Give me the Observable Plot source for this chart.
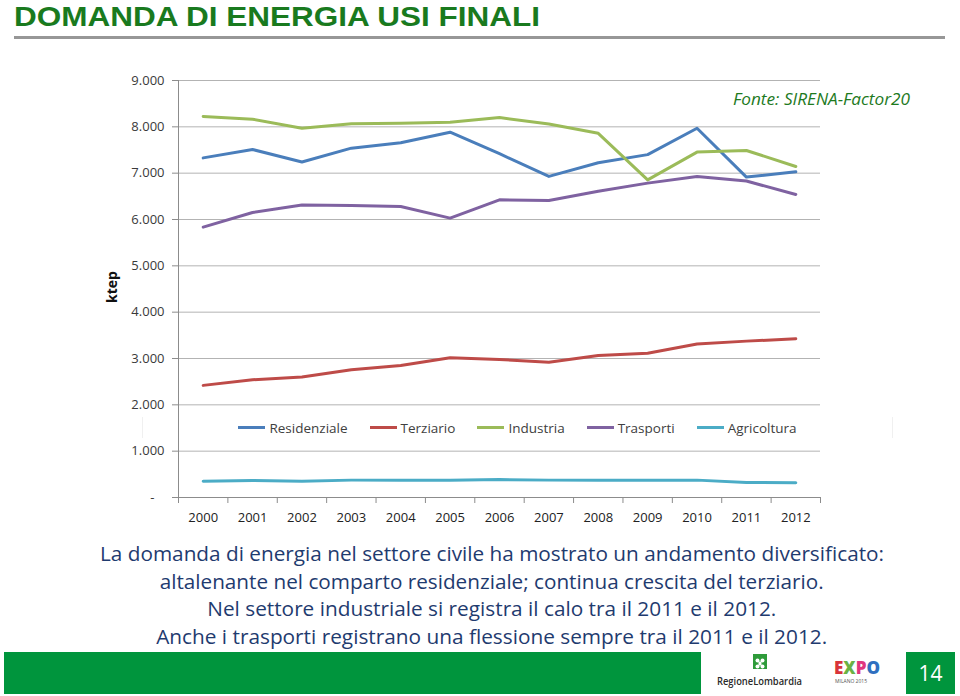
<!DOCTYPE html>
<html><head><meta charset="utf-8">
<script src="https://cdn.jsdelivr.net/npm/d3@7"></script>
<script src="https://cdn.jsdelivr.net/npm/@observablehq/plot@0.6"></script>
<style>
html,body{margin:0;padding:0;background:#fff;}
body{width:960px;height:696px;position:relative;overflow:hidden;font-family:"Open Sans",sans-serif;}
.abs{position:absolute;white-space:nowrap;}
.ib{display:inline-block;white-space:nowrap;}
#legend span.item{display:flex;align-items:center;font-size:13.5px;color:#404040;}
#legend span.sw{display:inline-block;width:27px;height:3px;margin-right:4px;}
.pline{position:absolute;left:0;width:984px;text-align:center;font-size:20px;line-height:28px;color:#1F3B6F;}
</style></head><body>
<div class="abs" style="left:14px;top:2px;line-height:30px;"><span id="title" class="ib" style="font-family:'Liberation Sans',Arial,sans-serif;font-weight:700;font-size:28px;color:#197A1E;transform-origin:left center;">DOMANDA DI ENERGIA USI FINALI</span></div>
<div class="abs" style="left:14px;top:36px;width:931px;height:3px;background:#979797;"></div>
<div id="chart" class="abs" style="left:0;top:60px;"></div>
<div class="abs" style="left:733px;top:89px;line-height:20px;"><span id="fonte" class="ib" style="font-style:italic;font-size:17px;color:#1E7A1E;transform-origin:left center;">Fonte: SIRENA-Factor20</span></div>
<div id="legend" class="abs" style="left:142px;top:417px;width:749px;height:21px;border-left:1px solid #f0f0f0;border-right:1px solid #f0f0f0;display:flex;justify-content:center;align-items:center;gap:22px;"></div>
<div id="para"></div>
<div class="abs" style="left:4px;top:652px;width:697px;height:42px;background:#00953D;"></div>
<div class="abs" style="left:906px;top:652px;width:49px;height:42px;background:#00953D;color:#fff;font-size:21px;line-height:42px;text-align:center;">14</div>
<div class="abs" style="left:753px;top:654px;width:14px;height:15px;background:#2E9B3A;">
<svg width="14" height="15" viewBox="0 0 14 15"><g fill="#fff"><circle cx="4.5" cy="4.5" r="2"/><circle cx="9.5" cy="4.5" r="2"/><circle cx="4.5" cy="10.5" r="2"/><circle cx="9.5" cy="10.5" r="2"/><rect x="5.5" y="5.5" width="3" height="4"/></g></svg></div>
<div class="abs" style="left:717px;top:674px;line-height:10px;"><span id="rl" class="ib" style="font-size:10px;font-weight:600;color:#2a2a2a;transform-origin:left center;">RegioneLombardia</span></div>
<div class="abs" style="left:834px;top:659px;line-height:18px;"><span id="expo" class="ib" style="font-size:17px;font-weight:800;transform-origin:left center;"><span style="color:#d8343a">E</span><span style="color:#6bb244">X</span><span style="color:#e0357e">P</span><span style="color:#2f6fc0">O</span></span></div>
<div class="abs" style="left:835px;top:678px;font-size:5px;line-height:6px;color:#555;">MILANO 2015</div>
<script>
const years = [2000, 2001, 2002, 2003, 2004, 2005, 2006, 2007, 2008, 2009, 2010, 2011, 2012];
const seriesNames = ["Residenziale", "Terziario", "Industria", "Trasporti", "Agricoltura"];
const seriesColors = ["#4A7EBB", "#BE4B48", "#9BBB59", "#7F62A1", "#4BACC6"];
const residenziale = [7330, 7510, 7240, 7540, 7655, 7885, 7420, 6930, 7225, 7400, 7970, 6915, 7030];
const terziario = [2420, 2540, 2600, 2755, 2850, 3015, 2980, 2920, 3065, 3115, 3315, 3375, 3425];
const industria = [8225, 8165, 7970, 8065, 8080, 8100, 8200, 8060, 7860, 6855, 7455, 7490, 7145];
const trasporti = [5835, 6150, 6315, 6300, 6280, 6030, 6425, 6410, 6610, 6785, 6930, 6830, 6540];
const agricoltura = [352, 367, 352, 375, 375, 375, 388, 375, 375, 375, 375, 324, 317];
const yTicks = [0, 1000, 2000, 3000, 4000, 5000, 6000, 7000, 8000, 9000];
const yLabel = "ktep";
const paragraphLines = [
  "La domanda di energia nel settore civile ha mostrato un andamento diversificato:",
  "altalenante nel comparto residenziale; continua crescita del terziario.",
  "Nel settore industriale si registra il calo tra il 2011 e il 2012.",
  "Anche i trasporti registrano una flessione sempre tra il 2011 e il 2012."
];
const paragraphWidths = [784, 664, 569, 671];

const values = [residenziale, terziario, industria, trasporti, agricoltura];
const rows = seriesNames.flatMap((name, i) => years.map((year, j) => ({series: name, year, value: values[i][j]})));
const boundaries = [years[0] - 0.5, ...years.map(y => y + 0.5)];
const fmt = d => d === 0 ? "-\u00a0\u00a0\u00a0" : d3.format(",")(d).replace(/,/g, ".");

const chart = Plot.plot({
  width: 960, height: 480,
  marginTop: 20, marginBottom: 43, marginLeft: 178, marginRight: 140,
  style: {fontFamily: "'Open Sans', sans-serif", fontSize: "13px", background: "transparent", color: "#333", overflow: "visible"},
  x: {type: "linear", domain: [years[0] - 0.5, years[years.length - 1] + 0.5]},
  y: {domain: [0, 9000]},
  color: {domain: seriesNames, range: seriesColors},
  marks: [
    Plot.gridY(yTicks.filter(d => d > 0), {stroke: "#b3b3b3", strokeOpacity: 1, strokeWidth: 1}),
    Plot.axisY(yTicks, {tickSize: 6, tickPadding: 8, tickFormat: fmt, stroke: "#8c8c8c", fill: "#3a3a3a", label: null}),
    Plot.axisX(boundaries, {tickSize: 6, tickFormat: () => "", stroke: "#8c8c8c", label: null}),
    Plot.axisX(years, {tickSize: 0, tickPadding: 15, tickFormat: d => String(d), fill: "#222", label: null}),
    Plot.ruleY([0], {stroke: "#8c8c8c"}),
    Plot.ruleX([boundaries[0]], {stroke: "#8c8c8c"}),
    Plot.line(rows, {x: "year", y: "value", z: "series", stroke: "series", strokeWidth: 3, strokeLinejoin: "round", strokeLinecap: "round"}),
    Plot.text([yLabel], {frameAnchor: "left", textAnchor: "middle", text: d => d, rotate: -90, dx: -66, dy: -2, fontWeight: "bold", fontSize: 14, fill: "#111"})
  ]
});
document.getElementById("chart").appendChild(chart);

const legend = document.getElementById("legend");
seriesNames.forEach((name, i) => {
  const item = document.createElement("span");
  item.className = "item";
  item.innerHTML = `<span class="sw" style="background:${seriesColors[i]}"></span>${name}`;
  legend.appendChild(item);
});

const para = document.getElementById("para");
const tops = [540, 567.6, 595.2, 622.8];
paragraphLines.forEach((t, i) => {
  const d = document.createElement("div");
  d.className = "pline";
  d.style.top = tops[i] + "px";
  d.innerHTML = `<span class="ib" style="transform-origin:center center">${t}</span>`;
  para.appendChild(d);
  const s = d.firstChild;
  const w = s.getBoundingClientRect().width;
  s.style.transform = `scaleX(${paragraphWidths[i] / w})`;
});

function fit(id, w) {
  const el = document.getElementById(id);
  const r = el.getBoundingClientRect().width;
  el.style.transform = `scaleX(${w / r})`;
}
fit("title", 526);
fit("fonte", 177);
fit("rl", 85);
fit("expo", 46);
</script>
</body></html>
